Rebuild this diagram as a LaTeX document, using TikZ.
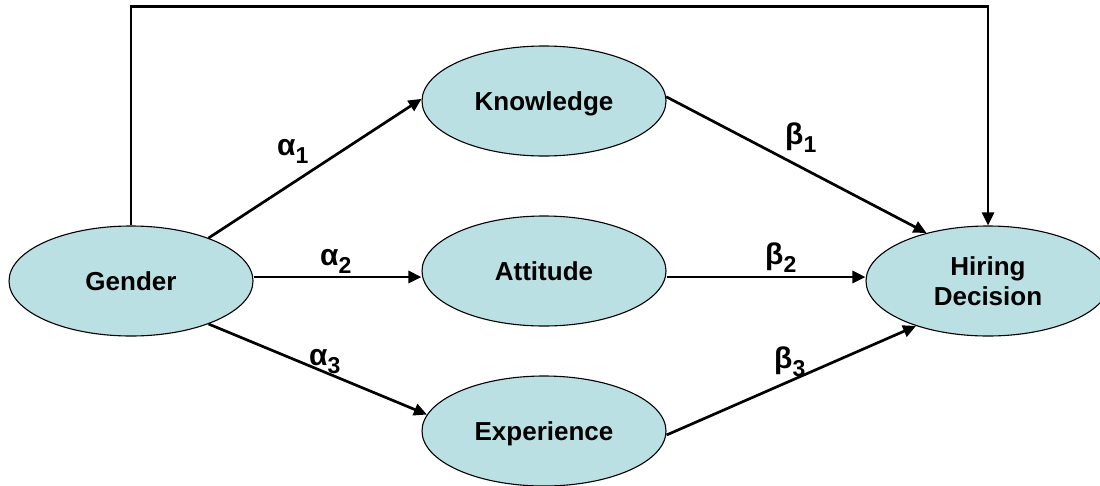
\documentclass[tikz,border=0pt]{standalone}
\usepackage{fontspec}
\setmainfont{Liberation Sans}
\usetikzlibrary{shapes.geometric,arrows.meta}
\definecolor{nodefill}{RGB}{187,224,227}
\tikzset{
  var/.style={ellipse, draw=black, line width=1.1pt, fill=nodefill,
    minimum width=244pt, minimum height=110pt, inner sep=0pt, text depth=0pt,
    font=\fontsize{26}{30}\selectfont\bfseries, align=center},
  link/.style={line width=2.7pt, -{Triangle[length=13pt,width=12pt]}},
  coef/.style={anchor=base west, inner sep=0pt,
    font=\fontsize{30}{32}\selectfont\bfseries},
}
\newcommand{\subidx}[1]{\raisebox{-8pt}{\fontsize{23}{23}\selectfont #1}}
\begin{document}
\begin{tikzpicture}[x=1pt,y=-1pt]
\useasboundingbox (0,0) rectangle (1100,485);
% variables
\node[var] (gender) at (131,281) {Gender};
\node[var] (know)   at (544,101) {Knowledge};
\node[var] (att)    at (544,271) {Attitude};
\node[var] (exp)    at (544,431) {Experience};
\node[var] (hire)   at (988,281) {Hiring\\Decision};
% direct path
\draw[link] (gender.north) -- ++(0,-219) -| (hire.north);
% mediated paths
\draw[link] (gender.29) -- (know.179);
\draw[link] ([yshift=4pt]gender.east) -- ([yshift=-6pt]att.west);
\draw[link] (gender.-29) -- (exp.172);
\draw[link] (know.2) -- (hire.142);
\draw[link] ([yshift=-6pt]att.east) -- ([yshift=4pt]hire.west);
\draw[link] ([yshift=-4pt]exp.east) -- (hire.212);
% path coefficients
\node[coef] (a1) at (277,155) {α\subidx{1}};
\node[coef] (a2) at (320,265) {α\subidx{2}};
\node[coef] (a3) at (309,365) {α\subidx{3}};
\node[coef] (b1) at (785,144) {β\subidx{1}};
\node[coef] (b2) at (765,264) {β\subidx{2}};
\node[coef] (b3) at (774,368) {β\subidx{3}};
\end{tikzpicture}
\end{document}
